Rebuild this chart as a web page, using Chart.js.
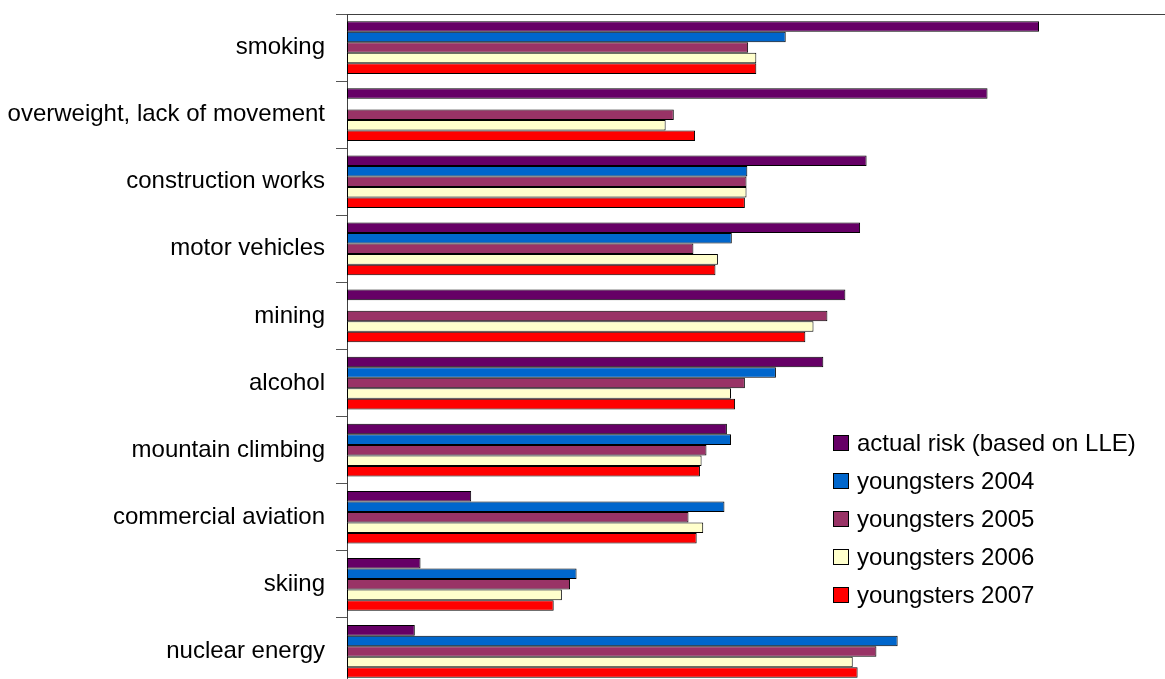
<!DOCTYPE html>
<html>
<head>
<meta charset="utf-8">
<script src="https://cdn.jsdelivr.net/npm/chart.js@4.4.1/dist/chart.umd.min.js"></script>
<style>
  html, body { margin: 0; padding: 0; background: #fff; overflow: hidden; }
  #wrap { position: relative; width: 1165px; height: 686px; }
  #legend { position: absolute; left: 833px; top: 424px; font-family: "Liberation Sans", Arial, sans-serif; font-size: 24px; color: #000; }
  .item { display: flex; align-items: center; height: 38px; }
  .box { width: 14px; height: 14px; border: 1px solid #000; margin-right: 8px; }
</style>
</head>
<body>
<div id="wrap">
  <canvas id="c" width="1165" height="686"></canvas>
  <div id="legend"></div>
</div>
<script>
const categories = ["smoking", "overweight, lack of movement", "construction works", "motor vehicles", "mining", "alcohol", "mountain climbing", "commercial aviation", "skiing", "nuclear energy"];
const seriesNames = ["actual risk (based on LLE)", "youngsters 2004", "youngsters 2005", "youngsters 2006", "youngsters 2007"];
const actualRisk   = [84.7, 78.4, 63.6, 62.8, 61.0, 58.3, 46.5, 15.2, 9.0, 8.3];
const youngsters2004 = [53.7, null, 49.0, 47.1, null, 52.5, 47.0, 46.2, 28.1, 67.4];
const youngsters2005 = [49.1, 40.0, 48.9, 42.4, 58.8, 48.7, 44.0, 41.8, 27.3, 64.8];
const youngsters2006 = [50.1, 39.0, 48.9, 45.4, 57.1, 47.0, 43.4, 43.6, 26.3, 61.9];
const youngsters2007 = [50.1, 42.6, 48.7, 45.1, 56.1, 47.5, 43.2, 42.8, 25.3, 62.5];
const seriesColors = ["#660066", "#0066CC", "#993366", "#FFFFCC", "#FF0000"];
const allSeries = [actualRisk, youngsters2004, youngsters2005, youngsters2006, youngsters2007];

const datasets = allSeries.map((d, i) => ({
  label: seriesNames[i],
  data: d,
  backgroundColor: seriesColors[i],
  borderColor: "#000",
  borderWidth: 1,
  borderSkipped: false,
  barPercentage: 1.0,
  categoryPercentage: 0.785
}));

new Chart(document.getElementById("c"), {
  type: "bar",
  data: { labels: categories, datasets },
  options: {
    indexAxis: "y",
    responsive: false,
    animation: false,
    layout: { padding: { top: 14, right: 1, bottom: 1, left: 0 } },
    plugins: { legend: { display: false }, tooltip: { enabled: false } },
    scales: {
      x: {
        position: "top",
        min: 0, max: 100,
        ticks: { display: false },
        grid: { display: false, drawTicks: false },
        border: { display: true, color: "#404040", width: 1 },
        afterFit: (s) => { s.height = 0; s.paddingLeft = 0; s.paddingRight = 0; }
      },
      y: {
        afterFit: (s) => { s.width = 347; s.paddingTop = 0; s.paddingBottom = 0; },
        ticks: { color: "#000", font: { family: "Liberation Sans, Arial, sans-serif", size: 24 }, padding: 11 },
        grid: { drawOnChartArea: false, drawTicks: true, tickLength: 11, color: "#555", offset: true },
        border: { display: true, color: "#404040", width: 1 }
      }
    }
  }
});

const lg = document.getElementById("legend");
seriesNames.forEach((n, i) => {
  const it = document.createElement("div");
  it.className = "item";
  const b = document.createElement("span");
  b.className = "box";
  b.style.background = seriesColors[i];
  const t = document.createElement("span");
  t.textContent = n;
  it.appendChild(b); it.appendChild(t);
  lg.appendChild(it);
});
</script>
</body>
</html>
